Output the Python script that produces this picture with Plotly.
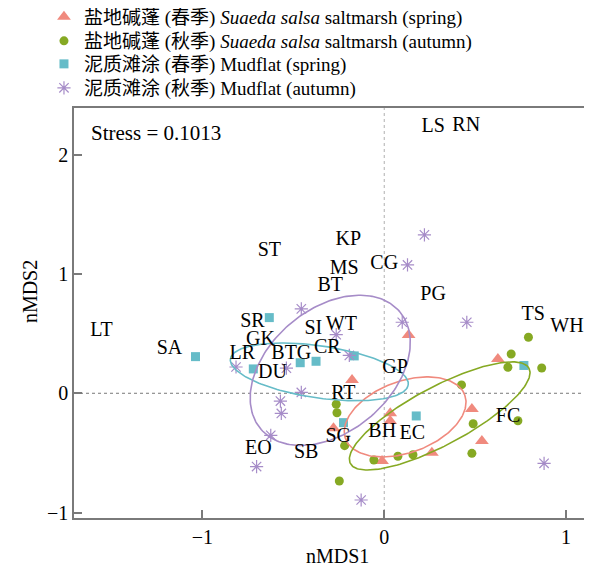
import numpy as np
import plotly.graph_objects as go

# ---------------- data ----------------
# 盐地碱蓬 (春季) Suaeda salsa saltmarsh (spring)
ss_spring_x = [0.134, -0.177, 0.033, 0.033, -0.012, 0.262, 0.482, 0.537, 0.625, -0.279]
ss_spring_y = [0.489, 0.112, -0.168, -0.232, -0.567, -0.498, -0.131, -0.400, 0.288, -0.293]

# 盐地碱蓬 (秋季) Suaeda salsa saltmarsh (autumn)
ss_autumn_x = [0.793, 0.698, 0.680, 0.866, 0.425, 0.489, 0.482, 0.735, 0.158, 0.075,
               -0.057, -0.247, -0.218, -0.260, -0.264]
ss_autumn_y = [0.469, 0.329, 0.218, 0.212, 0.070, -0.255, -0.503, -0.230, -0.515, -0.528,
               -0.559, -0.735, -0.439, -0.163, -0.092]

# 泥质滩涂 (春季) Mudflat (spring)
mf_spring_x = [-1.038, -0.632, -0.720, -0.462, -0.375, -0.165, -0.224, 0.176, 0.768]
mf_spring_y = [0.307, 0.634, 0.204, 0.256, 0.268, 0.313, -0.246, -0.190, 0.233]

# 泥质滩涂 (秋季) Mudflat (autumn)
mf_autumn_x = [0.221, 0.128, 0.454, 0.099, -0.264, -0.192, -0.456, -0.815, -0.538, -0.456,
               -0.571, -0.566, -0.624, -0.702, 0.879, -0.127]
mf_autumn_y = [1.327, 1.075, 0.595, 0.595, 0.491, 0.317, 0.707, 0.220, 0.210, 0.007,
               -0.065, -0.169, -0.352, -0.614, -0.587, -0.894]

# species labels
species = ["LS", "RN", "ST", "KP", "MS", "CG", "BT", "PG", "LT", "SA", "SR", "GK", "LR",
           "BTG", "DU", "SI", "WT", "CR", "GP", "RT", "EO", "SB", "SG", "BH", "EC", "TS",
           "WH", "FC"]
species_x = [0.269, 0.451, -0.632, -0.198, -0.220, 0.000, -0.297, 0.269, -1.555, -1.181,
             -0.725, -0.681, -0.780, -0.511, -0.615, -0.390, -0.236, -0.313, 0.060, -0.225,
             -0.692, -0.429, -0.253, -0.011, 0.154, 0.819, 1.005, 0.681]
species_y = [2.233, 2.241, 1.191, 1.283, 1.040, 1.082, 0.899, 0.824, 0.522, 0.372,
             0.598, 0.447, 0.330, 0.330, 0.170, 0.539, 0.573, 0.380, 0.212, -0.006,
             -0.467, -0.501, -0.366, -0.324, -0.341, 0.656, 0.556, -0.199]

# ellipse parameters: centre and two conjugate semi-diameters (data units)
ell_centre_x = [0.115, 0.305, -0.357, -0.297]
ell_centre_y = [-0.198, -0.190, 0.179, 0.192]
ell_u_x = [0.328, 0.491, 0.489, 0.383]
ell_u_y = [0.183, 0.399, -0.109, 0.490]
ell_v_x = [0.067, 0.075, -0.021, 0.217]
ell_v_y = [-0.281, -0.215, -0.216, -0.395]

stress_text = "Stress = 0.1013"
x_ticks = [-1, 0, 1]
y_ticks = [-1, 0, 1, 2]

# ---------------- style ----------------
C_RED = "#F08A7E"
C_GREEN = "#86A923"
C_CYAN = "#66BCC8"
C_PURPLE = "#A68CC8"
FONT = "Liberation Serif, 'Times New Roman', 'Noto Sans CJK SC', serif"
AX_COL = "#7a7a7a"

fig = go.Figure()

fig.add_trace(go.Scatter(
    x=ss_spring_x, y=ss_spring_y, mode="markers", legend="legend",
    name="盐地碱蓬 (春季) <i>Suaeda salsa</i> saltmarsh (spring)",
    marker=dict(symbol="triangle-up", size=12, color=C_RED)))
fig.add_trace(go.Scatter(
    x=ss_autumn_x, y=ss_autumn_y, mode="markers", legend="legend2",
    name="盐地碱蓬 (秋季) <i>Suaeda salsa</i> saltmarsh (autumn)",
    marker=dict(symbol="circle", size=9, color=C_GREEN)))
fig.add_trace(go.Scatter(
    x=mf_spring_x, y=mf_spring_y, mode="markers", legend="legend3",
    name="泥质滩涂 (春季) Mudflat (spring)",
    marker=dict(symbol="square", size=9, color=C_CYAN)))
fig.add_trace(go.Scatter(
    x=mf_autumn_x, y=mf_autumn_y, mode="markers", legend="legend4",
    name="泥质滩涂 (秋季) Mudflat (autumn)",
    marker=dict(symbol="asterisk-open", size=11, color=C_PURPLE,
                line=dict(color=C_PURPLE, width=1.2))))

t = np.linspace(0, 2 * np.pi, 200)
for i, col in enumerate([C_RED, C_GREEN, C_CYAN, C_PURPLE]):
    ex = ell_centre_x[i] + ell_u_x[i] * np.cos(t) + ell_v_x[i] * np.sin(t)
    ey = ell_centre_y[i] + ell_u_y[i] * np.cos(t) + ell_v_y[i] * np.sin(t)
    fig.add_trace(go.Scatter(x=ex, y=ey, mode="lines", showlegend=False,
                             line=dict(color=col, width=1.6), hoverinfo="skip"))

fig.add_trace(go.Scatter(
    x=species_x, y=species_y, mode="text", text=species, showlegend=False,
    textfont=dict(family=FONT, size=20, color="black")))

# reference lines at 0
fig.add_shape(type="line", xref="x", yref="paper", x0=0, x1=0, y0=0, y1=1,
              line=dict(color="#9a9a9a", width=0.8, dash="dot"), layer="below")
fig.add_shape(type="line", xref="paper", yref="y", x0=0, x1=1, y0=0, y1=0,
              line=dict(color="#555555", width=0.8, dash="dot"), layer="below")

fig.add_annotation(x=-1.622, y=2.182, text=stress_text, showarrow=False,
                   xanchor="left", yanchor="middle",
                   font=dict(family=FONT, size=21, color="black"))

# axis titles
fig.add_annotation(xref="paper", yref="paper", x=0.5126, y=-0.0927, text="nMDS1",
                   showarrow=False, xanchor="center", yanchor="middle",
                   font=dict(family=FONT, size=20, color="black"))
fig.add_annotation(xref="paper", yref="paper", x=-0.0854, y=0.551, text="nMDS2",
                   showarrow=False, xanchor="center", yanchor="middle", textangle=-90,
                   font=dict(family=FONT, size=20, color="black"))

axis_common = dict(showgrid=False, zeroline=False, showline=True, mirror=True,
                   linecolor=AX_COL, linewidth=1.5, ticks="inside", ticklen=8,
                   tickcolor=AX_COL, tickwidth=1.5,
                   tickfont=dict(family=FONT, size=20, color="black"))

leg_common = dict(xref="container", yref="paper", x=0.0616, xanchor="left",
                  yanchor="middle", bgcolor="rgba(0,0,0,0)",
                  font=dict(family=FONT, size=19, color="black"))

fig.update_layout(
    width=584, height=562,
    margin=dict(l=66, r=3, t=100, b=52, autoexpand=False),
    plot_bgcolor="white", paper_bgcolor="white",
    font=dict(family=FONT, size=19, color="black"),
    xaxis=dict(range=[-1.706, 1.126], tickvals=x_ticks, **axis_common),
    yaxis=dict(range=[-1.045, 2.39], tickvals=y_ticks, **axis_common),
    legend=dict(y=1.222, **leg_common),
    legend2=dict(y=1.1634, **leg_common),
    legend3=dict(y=1.1073, **leg_common),
    legend4=dict(y=1.0488, **leg_common),
    showlegend=True,
)

fig.write_html("out.html")
